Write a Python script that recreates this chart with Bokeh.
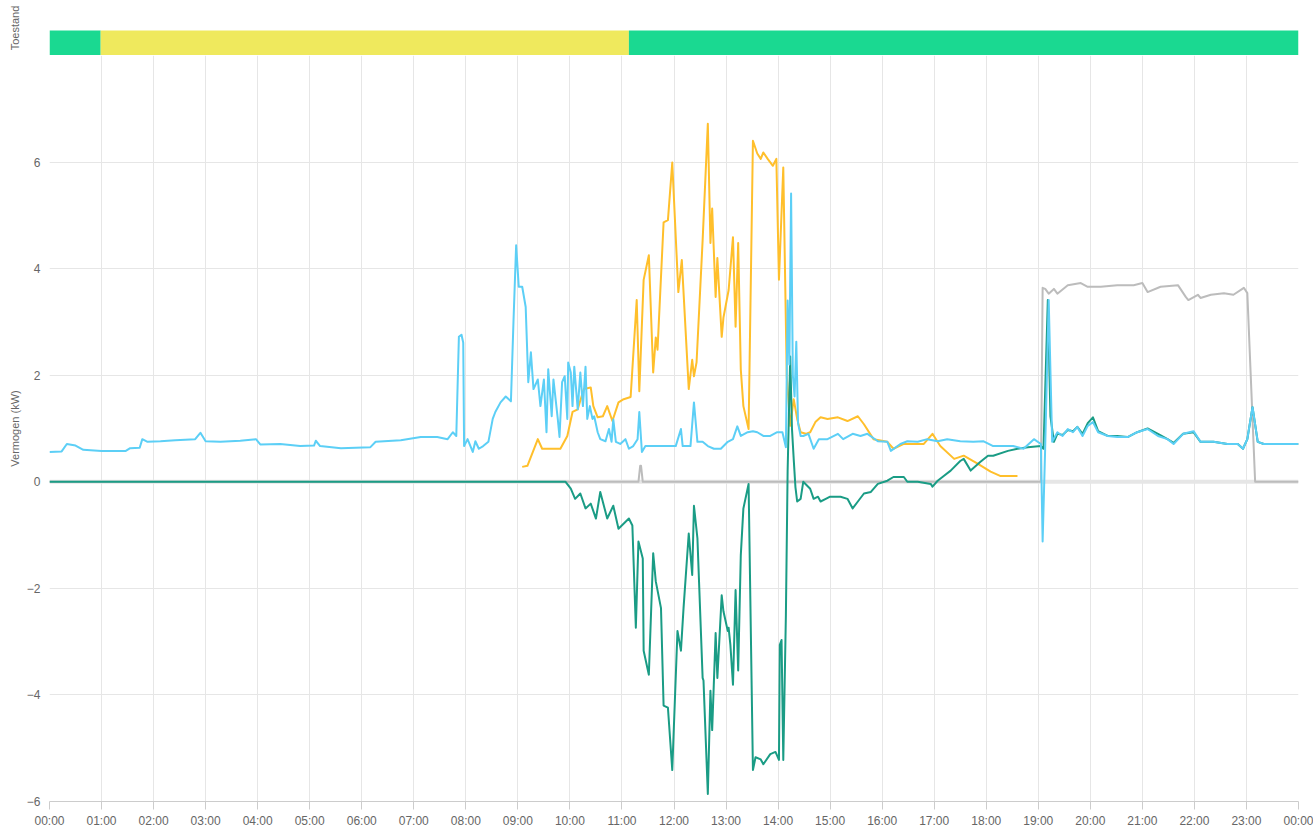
from bokeh.plotting import figure
from bokeh.layouts import column
from bokeh.models import Range1d, FixedTicker, Span
from bokeh.embed import file_html
from bokeh.resources import INLINE

# ---------------- data ----------------
hour_ticks = list(range(25))
hour_labels = ["%02d:00" % (h % 24) for h in hour_ticks]
kw_ticks = [-6, -4, -2, 0, 2, 4, 6]

# status bar (minutes after midnight)
state_start = [0, 59, 668]
state_end = [59, 668, 1440]
state_colors = ["#1ad991", "#efe95d", "#1ad991"]

# house consumption (light blue)
house_min = [0, 14, 20, 30, 39, 60, 88, 93, 104, 107, 113, 128, 145, 168, 172, 174, 180, 197, 220, 238,
             243, 266, 289, 305, 307, 312, 336, 370, 376, 405, 428, 447, 459, 465, 469, 472, 475, 477, 478, 482,
             488, 491, 495, 500, 506, 511, 514, 520, 526, 532, 535, 538, 541, 545, 549, 552, 555, 558, 563, 566,
             570, 573, 575, 579, 581, 586, 588, 591, 594, 597, 598, 601, 603, 605, 609, 612, 615, 618, 620, 623,
             626, 628, 632, 635, 641, 645, 648, 650, 653, 658, 664, 668, 673, 678, 680, 683, 687, 693, 713, 722,
             728, 730, 739, 743, 747, 753, 759, 766, 774, 782, 788, 793, 797, 805, 811, 816, 823, 831, 839, 845,
             849, 851, 853, 855, 857, 859, 861, 863, 866, 869, 875, 881, 887, 897, 909, 915, 926, 935, 943, 955,
             966, 970, 981, 989, 1001, 1012, 1024, 1035, 1050, 1065, 1077, 1088, 1111, 1123, 1135, 1143, 1145, 1148, 1152, 1156,
             1162, 1168, 1174, 1180, 1185, 1191, 1197, 1203, 1209, 1220, 1231, 1243, 1254, 1266, 1278, 1289, 1296, 1307, 1319, 1327,
             1342, 1358, 1370, 1376, 1381, 1387, 1393, 1400, 1440]
house_kw = [0.56, 0.57, 0.71, 0.68, 0.60, 0.58, 0.58, 0.63, 0.64, 0.80, 0.75, 0.76, 0.78, 0.80, 0.88, 0.92, 0.76, 0.75, 0.77, 0.80,
            0.70, 0.71, 0.67, 0.68, 0.77, 0.67, 0.63, 0.65, 0.75, 0.78, 0.84, 0.84, 0.80, 0.93, 0.86, 2.72, 2.76, 2.61, 0.67, 0.80,
            0.56, 0.76, 0.62, 0.67, 0.75, 1.18, 1.31, 1.49, 1.60, 1.51, 3.04, 4.44, 3.66, 3.66, 3.28, 1.87, 2.43, 1.74, 1.92, 1.42,
            1.92, 0.93, 2.11, 1.23, 1.92, 1.18, 0.84, 1.87, 1.98, 1.18, 2.24, 2.05, 1.42, 2.16, 1.36, 2.05, 1.42, 2.16, 1.18, 1.42,
            1.18, 1.23, 0.93, 0.80, 0.76, 0.99, 0.75, 1.17, 0.75, 0.71, 0.80, 0.62, 0.67, 0.80, 1.31, 0.56, 0.67, 0.67, 0.67, 0.67,
            0.99, 0.67, 0.67, 1.49, 0.75, 0.75, 0.67, 0.62, 0.62, 0.75, 0.80, 1.04, 0.86, 0.93, 0.95, 0.93, 0.86, 0.86, 0.93, 0.93,
            0.65, 3.40, 2.20, 5.41, 2.00, 1.60, 2.63, 1.10, 0.86, 0.86, 0.90, 0.62, 0.80, 0.80, 0.90, 0.80, 0.90, 0.86, 0.90, 0.76,
            0.75, 0.58, 0.71, 0.76, 0.75, 0.80, 0.76, 0.80, 0.76, 0.75, 0.76, 0.67, 0.67, 0.62, 0.80, 0.71, -1.12, 0.67, 3.41, 0.75,
            0.93, 0.86, 0.99, 0.93, 1.03, 0.86, 1.05, 1.12, 0.93, 0.86, 0.84, 0.84, 0.93, 0.99, 0.86, 0.80, 0.71, 0.90, 0.95, 0.75,
            0.75, 0.71, 0.71, 0.62, 0.80, 1.40, 0.75, 0.71, 0.71]

# grid exchange (teal)
grid_min = [0, 595, 601, 606, 612, 618, 624, 630, 635, 643, 650, 656, 668, 672, 676, 679, 684, 685, 691, 696,
            699, 705, 708, 713, 718, 724, 728, 731, 737, 741, 743, 747, 753, 754, 759, 762, 764, 768, 770, 775,
            777, 782, 783, 785, 788, 791, 794, 797, 800, 806, 811, 814, 820, 823, 831, 837, 841, 842, 844, 846,
            849, 851, 854, 856, 858, 860, 862, 866, 869, 877, 881, 886, 889, 895, 900, 912, 920, 926, 932, 939,
            947, 955, 966, 973, 985, 989, 1001, 1016, 1018, 1024, 1031, 1039, 1050, 1054, 1062, 1073, 1082, 1088, 1105, 1116,
            1128, 1143, 1146, 1151, 1154, 1158, 1162, 1168, 1174, 1180, 1185, 1191, 1197, 1203, 1209, 1220, 1231, 1243, 1254, 1266,
            1278, 1289, 1296, 1307, 1319, 1327, 1342, 1358, 1370, 1376, 1381, 1387, 1393, 1400, 1440]
grid_kw = [0.0, 0.0, -0.13, -0.32, -0.22, -0.50, -0.41, -0.69, -0.19, -0.69, -0.45, -0.88, -0.69, -0.82, -2.74, -1.12, -1.44, -3.17, -3.62, -1.34,
           -1.87, -2.37, -4.20, -4.24, -5.41, -2.80, -3.17, -2.37, -0.97, -1.75, -0.45, -1.06, -3.68, -3.73, -5.86, -3.92, -4.66, -2.84, -3.68, -2.13,
           -2.43, -2.80, -2.74, -3.06, -3.81, -2.03, -3.54, -1.38, -0.50, -0.04, -5.41, -5.17, -5.21, -5.30, -5.11, -5.07, -5.22, -3.06, -2.97, -5.22,
           -2.50, 0.20, 2.35, 1.00, 0.43, -0.10, -0.37, -0.32, 0.00, -0.13, -0.32, -0.28, -0.37, -0.32, -0.28, -0.28, -0.32, -0.50, -0.37, -0.22,
           -0.19, -0.04, 0.02, 0.09, 0.09, 0.00, 0.00, -0.04, -0.09, 0.02, 0.11, 0.21, 0.39, 0.43, 0.21, 0.37, 0.49, 0.49, 0.58, 0.62,
           0.65, 0.67, 0.62, 3.41, 1.23, 0.75, 0.90, 0.88, 0.97, 0.95, 1.03, 0.90, 1.10, 1.21, 0.95, 0.86, 0.86, 0.84, 0.93, 1.00,
           0.90, 0.80, 0.73, 0.90, 0.93, 0.75, 0.75, 0.71, 0.71, 0.62, 0.80, 1.40, 0.75, 0.71, 0.71]

# solar production (orange)
solar_min = [545, 551, 563, 568, 589, 597, 603, 609, 616, 624, 627, 632, 638, 643, 649, 656, 662, 670, 677, 680,
             685, 691, 696, 699, 701, 708, 713, 718, 725, 729, 737, 741, 743, 746, 753, 759, 762, 764, 768, 770,
             775, 777, 783, 788, 791, 794, 797, 800, 806, 811, 816, 820, 823, 828, 834, 838, 841, 846, 850, 854,
             858, 862, 866, 872, 877, 883, 889, 897, 909, 920, 932, 939, 950, 966, 973, 985, 1008, 1018, 1027, 1043,
             1054, 1070, 1085, 1096, 1116]
solar_kw = [0.28, 0.30, 0.80, 0.62, 0.62, 0.86, 1.31, 1.36, 1.74, 1.77, 1.42, 1.21, 1.23, 1.42, 1.14, 1.49, 1.55, 1.59, 3.41, 1.70,
            3.79, 4.25, 2.05, 2.71, 2.48, 4.87, 4.91, 5.99, 3.56, 4.16, 1.74, 2.29, 1.98, 2.24, 4.53, 6.72, 4.48, 5.13, 3.47, 4.20,
            2.72, 3.08, 3.60, 4.59, 2.91, 4.48, 2.11, 1.42, 0.99, 6.40, 6.16, 6.06, 6.18, 6.06, 5.93, 6.06, 3.79, 5.90, 1.98, 1.05,
            1.55, 1.18, 0.93, 0.90, 0.93, 1.12, 1.21, 1.18, 1.21, 1.14, 1.23, 1.08, 0.80, 0.75, 0.62, 0.71, 0.71, 0.90, 0.67, 0.43,
            0.49, 0.34, 0.19, 0.11, 0.11]

# EV charging (grey)
ev_min = [0, 679, 681, 682, 684, 1143, 1145, 1148, 1152, 1158, 1162, 1174, 1189, 1197, 1212, 1231, 1250, 1260, 1266, 1281,
          1301, 1310, 1313, 1324, 1327, 1339, 1354, 1365, 1377, 1381, 1390, 1440]
ev_kw = [0, 0, 0.30, 0.30, 0, 0, 3.64, 3.62, 3.53, 3.62, 3.53, 3.69, 3.73, 3.66, 3.66, 3.69, 3.69, 3.73, 3.56, 3.66,
         3.69, 3.47, 3.41, 3.51, 3.45, 3.51, 3.54, 3.51, 3.64, 3.54, 0, 0]

for a, b in [(house_min, house_kw), (grid_min, grid_kw), (solar_min, solar_kw), (ev_min, ev_kw)]:
    assert len(a) == len(b), (len(a), len(b))


def hrs(mins):
    return [m / 60.0 for m in mins]


# ---------------- styling ----------------
FONT = "Liberation Sans"
TXT = "#666666"
GRID = "#e6e6e6"
FW = 1249
LB = 49
RB = 15

xr = Range1d(0, 24)

# status strip
s = figure(x_range=xr, y_range=Range1d(0, 55), frame_width=FW, frame_height=55,
           min_border_left=LB, min_border_right=RB, min_border_top=0, min_border_bottom=0,
           toolbar_location=None, output_backend="svg", x_axis_location=None)
s.quad(left=hrs(state_start), right=hrs(state_end), bottom=0, top=25,
       fill_color=state_colors, line_color=None)
s.xgrid.visible = False
s.ygrid.visible = False
s.outline_line_color = None
s.yaxis.ticker = FixedTicker(ticks=[])
s.yaxis.axis_line_color = None
s.yaxis.major_tick_line_color = None
s.yaxis.minor_tick_line_color = None
s.yaxis.major_tick_out = 0
s.yaxis.axis_label = "Toestand"
s.yaxis.axis_label_text_font = FONT
s.yaxis.axis_label_text_font_size = "11px"
s.yaxis.axis_label_text_font_style = "normal"
s.yaxis.axis_label_text_color = TXT
s.yaxis.axis_label_standoff = 29

# main chart
p = figure(x_range=xr, y_range=Range1d(-6, 8), frame_width=FW, frame_height=746,
           min_border_left=LB, min_border_right=RB, min_border_top=0, min_border_bottom=0,
           toolbar_location=None, output_backend="svg")
p.outline_line_color = None
p.background_fill_color = "white"

p.xaxis.ticker = FixedTicker(ticks=hour_ticks)
p.xaxis.major_label_overrides = {h: lab for h, lab in zip(hour_ticks, hour_labels)}
p.xaxis.axis_line_color = "#cccccc"
p.xaxis.major_tick_line_color = "#cccccc"
p.xaxis.major_tick_out = 8
p.xaxis.major_tick_in = 0
p.xaxis.minor_tick_line_color = None
p.xaxis.major_label_standoff = 4
p.xaxis.major_label_text_font = FONT
p.xaxis.major_label_text_font_size = "12px"
p.xaxis.major_label_text_color = TXT

p.yaxis.ticker = FixedTicker(ticks=kw_ticks)
p.yaxis.axis_line_color = None
p.yaxis.major_tick_line_color = None
p.yaxis.minor_tick_line_color = None
p.yaxis.major_tick_out = 0
p.yaxis.major_tick_in = 0
p.yaxis.major_label_standoff = 9
p.yaxis.major_label_text_font = FONT
p.yaxis.major_label_text_font_size = "12px"
p.yaxis.major_label_text_color = TXT
p.yaxis.axis_label = "Vermogen (kW)"
p.yaxis.axis_label_text_font = FONT
p.yaxis.axis_label_text_font_size = "11px"
p.yaxis.axis_label_text_font_style = "normal"
p.yaxis.axis_label_text_color = TXT
p.yaxis.axis_label_standoff = 3

p.xgrid.grid_line_color = GRID
p.ygrid.grid_line_color = GRID

p.add_layout(Span(location=0, dimension="width", line_color="#e6e6e6", line_width=4, level="underlay"))

p.line(hrs(ev_min), ev_kw, line_color="#bcbcbc", line_width=2, line_join="round")
p.line(hrs(solar_min), solar_kw, line_color="#ffbf2b", line_width=2, line_join="round")
p.line(hrs(grid_min), grid_kw, line_color="#1a9c85", line_width=2, line_join="round")
p.line(hrs(house_min), house_kw, line_color="#5ccff6", line_width=2, line_join="round")

layout = column(s, p, spacing=0)
open("out.html", "w").write(file_html(layout, INLINE))
